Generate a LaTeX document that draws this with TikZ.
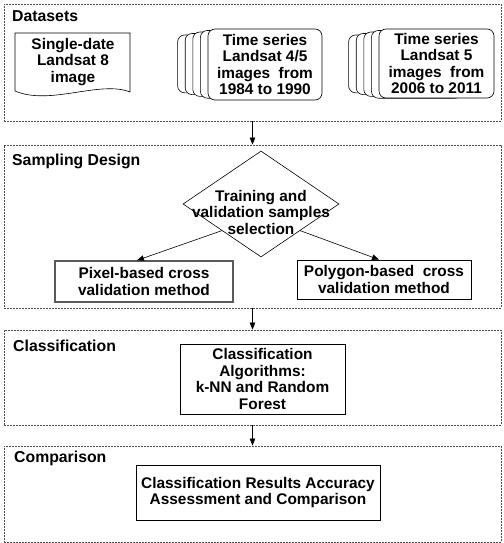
\documentclass[tikz,border=0pt]{standalone}
\usepackage{fontspec}
\setmainfont{Liberation Sans}
\usetikzlibrary{arrows.meta,shapes.geometric}

\begin{document}
\begin{tikzpicture}[x=1pt,y=-1pt,
	every node/.style={font=\fontsize{15.4}{16.5}\selectfont\bfseries, align=center, inner sep=0pt},
	title/.style={anchor=west, font=\fontsize{15.8}{17}\selectfont\bfseries},
	panel/.style={draw=black!70, dash pattern=on 2pt off 1pt, line width=0.8pt},
	box/.style={draw, line width=0.8pt},
	page/.style={draw, fill=white, rounded corners=7pt, line width=0.6pt},
	arr/.style={-{Triangle[length=7pt,width=5.5pt]}, line width=0.6pt}]
	\useasboundingbox (0,0) rectangle (503,543);
	% panels
	\node[panel, minimum width=497, minimum height=117] (datasets) at (252.5,62.5) {};
	\node[panel, minimum width=497, minimum height=163] (sampling) at (252.5,226.5) {};
	\node[panel, minimum width=497, minimum height=95] (classif) at (252.5,377.5) {};
	\node[panel, minimum width=497, minimum height=96] (compar) at (252.5,494) {};
	\node[title] (tdat) at (12,16) {Datasets};
	\node[title] (tsam) at (12,161) {Sampling Design};
	\node[title] (tcla) at (13,346) {Classification};
	\node[title] (tcom) at (14,458) {Comparison};

	% datasets
	\draw[page, rounded corners=0pt] (15,91) -- (15,33) -- (130,33) -- (130,92)
		.. controls (100,80) and (50,106) .. (15,91);
	\node (ls8) at (73,62) {Single-date\\Landsat 8\\image};
	\foreach \sx/\sr in {208/300, 379/470}
		\foreach \k in {4,3,2,1}
			\draw[page] (\sx-7.6*\k, 29+1.5*\k) rectangle (\sr-7.6*\k, 100-1.8*\k);
	\node[page, minimum width=114, minimum height=71] (ls45) at (265,64.5)
		{Time series\\Landsat 4/5\\images\ \ from\\1984 to 1990};
	\node[page, minimum width=115, minimum height=69] (ls5) at (436.5,63.5)
		{Time series\\Landsat 5\\images\ \ from\\2006 to 2011};

	% sampling design
	\node[draw, diamond, minimum width=156, minimum height=106, line width=0.6pt] (sel) at (261,204) {};
	\node (seltext) at (261,212) {Training and\\validation samples\\selection};
	\node[box, draw=black!65, line width=1.3pt, minimum width=178, minimum height=41] (pix) at (144,281.5)
		{Pixel-based cross\\validation method};
	\node[box, minimum width=174, minimum height=39] (poly) at (384,279.5)
		{Polygon-based\ \ cross\\validation method};
	\draw[arr] (sel.south west) -- ([xshift=-7pt]pix.north);
	\draw[arr] (sel.south east) -- ([xshift=-5pt]poly.north);

	% classification and comparison
	\node[box, minimum width=165, minimum height=70] (algo) at (262.5,379)
		{Classification\\Algorithms:\\k-NN and Random\\Forest};
	\node[box, minimum width=244, minimum height=55] (acc) at (258,492.5)
		{Classification Results Accuracy\\Assessment and Comparison};

	\draw[arr] (datasets.south) -- (sampling.north);
	\draw[arr] (sampling.south) -- (classif.north);
	\draw[arr] (classif.south) -- (compar.north);
\end{tikzpicture}
\end{document}
